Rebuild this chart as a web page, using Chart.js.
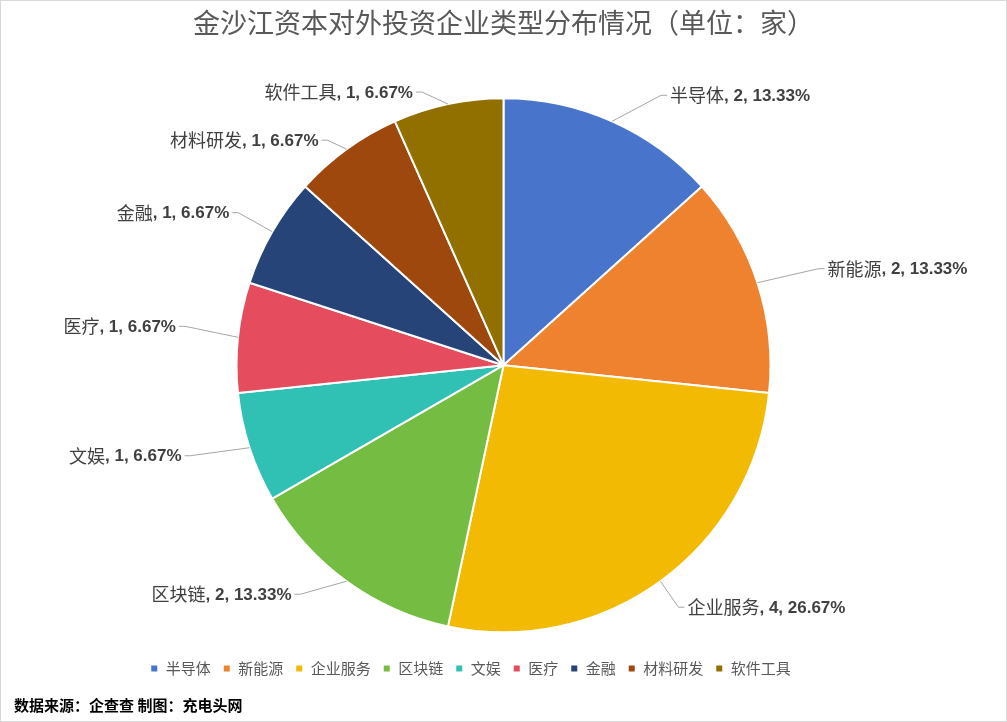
<!DOCTYPE html>
<html>
<head>
<meta charset="utf-8">
<script src="https://cdn.jsdelivr.net/npm/chart.js@4.4.0/dist/chart.umd.min.js"></script>
<style>
  html, body { margin: 0; padding: 0; background: #fff; }
  #wrap { width: 1007px; height: 722px; }
</style>
</head>
<body>
<div id="wrap"><canvas id="pieChart" width="1007" height="722"></canvas></div>
<script>
// ============================
// DATA
// ============================

const kategori = ['半导体', '新能源', '企业服务', '区块链', '文娱', '医疗', '金融', '材料研发', '软件工具'];
const jumlah = [2, 2, 4, 2, 1, 1, 1, 1, 1];
const persen = ['13.33%', '13.33%', '26.67%', '13.33%', '6.67%', '6.67%', '6.67%', '6.67%', '6.67%'];

const warna = ['#4874CB', '#EE822F', '#F2BA02', '#75BD42', '#30C0B4', '#E54C5E', '#264478', '#9E480E', '#917000'];

// leader line end, relative to slice edge
const labelOffset = [[55, -26], [67, -14], [24, 26], [-52, 13], [-65, 8], [-59, -11], [-40, -19], [-25, -9], [-32, -12]];

// ============================
// PLUGINS
// ============================

const frame = {
    id: 'frame',
    afterLayout(chart) {
        // legend sits a little left of centre in the original
        chart.legend.left -= 33;
        chart.legend.right -= 33;
    },
    beforeDraw(chart) {
        const c = chart.ctx;
        c.save();
        c.fillStyle = '#fff';
        c.fillRect(0, 0, chart.width, chart.height);
        c.strokeStyle = '#d9d9d9';
        c.lineWidth = 1;
        c.strokeRect(0.5, 0.5, chart.width - 1, chart.height - 1);
        c.restore();
    },
    afterDraw(chart) {
        const c = chart.ctx;
        c.save();
        c.fillStyle = '#000';
        c.font = 'bold 15px "Noto Sans CJK SC"';
        c.textBaseline = 'middle';
        c.fillText('数据来源：企查查 制图：充电头网', 14, 705);
        c.restore();
    }
};

const outLabels = {
    id: 'outLabels',
    afterDatasetsDraw(chart) {
        const c = chart.ctx;
        const arcs = chart.getDatasetMeta(0).data;
        c.save();
        arcs.forEach((arc, i) => {
            const p = arc.getProps(['x', 'y', 'startAngle', 'endAngle', 'outerRadius'], true);
            const mid = (p.startAngle + p.endAngle) / 2;
            const ex = p.x + Math.cos(mid) * p.outerRadius;
            const ey = p.y + Math.sin(mid) * p.outerRadius;
            const tx = ex + labelOffset[i][0];
            const ty = ey + labelOffset[i][1];
            const side = labelOffset[i][0] > 0 ? 1 : -1;

            c.strokeStyle = '#a6a6a6';
            c.lineWidth = 1;
            c.beginPath();
            c.moveTo(ex, ey);
            c.lineTo(tx - side * 6, ty);
            c.lineTo(tx, ty);
            c.stroke();

            const nama = kategori[i];
            const sisa = ', ' + jumlah[i] + ', ' + persen[i];
            const f1 = '18px "Noto Sans CJK SC"';
            const f2 = 'bold 17px "Liberation Sans"';
            c.font = f1;
            const w1 = c.measureText(nama).width;
            c.font = f2;
            const w2 = c.measureText(sisa).width;
            const x0 = side > 0 ? tx + 3 : tx - 3 - w1 - w2;

            c.fillStyle = '#404040';
            c.textBaseline = 'middle';
            c.textAlign = 'left';
            c.font = f1;
            c.fillText(nama, x0, ty);
            c.font = f2;
            c.fillText(sisa, x0 + w1, ty + 1);
        });
        c.restore();
    }
};

// ============================
// PIE
// ============================

const pieCtx = document.getElementById('pieChart');

new Chart(pieCtx, {

    type: 'pie',

    data: {

        labels: kategori,

        datasets: [{

            data: jumlah,

            backgroundColor: warna,

            borderColor: '#fff',

            borderWidth: 2,

            radius: 267

        }]

    },

    options: {

        responsive: false,
        animation: false,

        layout: {
            padding: { top: 0, bottom: 36, left: 0, right: 0 }
        },

        plugins: {

            title: {
                display: true,
                text: '金沙江资本对外投资企业类型分布情况（单位：家）',
                color: '#595959',
                font: { family: '"Noto Sans CJK SC"', size: 27, weight: 'normal' },
                padding: { top: 7, bottom: 42 }
            },

            legend: {
                position: 'bottom',
                labels: {
                    boxWidth: 8,
                    boxHeight: 8,
                    padding: 12,
                    color: '#595959',
                    font: { family: '"Noto Sans CJK SC"', size: 15 }
                }
            },

            tooltip: { enabled: false }

        }

    },

    plugins: [frame, outLabels]

});
</script>
</body>
</html>
